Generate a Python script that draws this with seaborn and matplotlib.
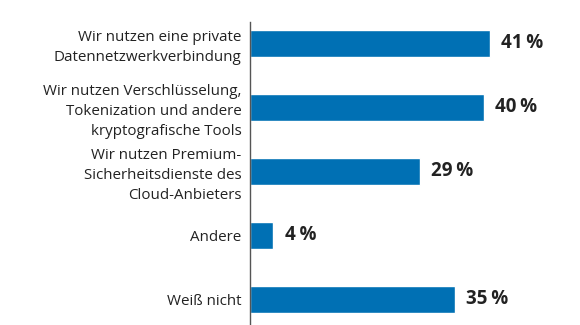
import matplotlib
matplotlib.use("Agg")
import matplotlib.pyplot as plt
import seaborn as sns
import pandas as pd

categories = [
    "Wir nutzen eine private\nDatennetzwerkverbindung",
    "Wir nutzen Verschlüsselung,\nTokenization und andere\nkryptografische Tools",
    "Wir nutzen Premium-\nSicherheitsdienste des\nCloud-Anbieters",
    "Andere",
    "Weiß nicht",
]
values = [41, 40, 29, 4, 35]

df = pd.DataFrame({"Kategorie": categories, "Anteil": values})

sns.set_theme(style="white")
plt.rcParams["font.family"] = ["Open Sans", "DejaVu Sans"]

fig = plt.figure(figsize=(5.8, 3.25), dpi=100)
ax = fig.add_axes([250 / 580, 0, 330 / 580, 303 / 325])

sns.barplot(data=df, y="Kategorie", x="Anteil", orient="h",
            color="#0070b4", saturation=1, width=0.42, ax=ax)

ax.set_xlim(0, 56.4)
ax.set_ylim(4.4, -0.336)
ax.set_xlabel("")
ax.set_ylabel("")
ax.set_xticks([])
for s in ["top", "right", "bottom"]:
    ax.spines[s].set_visible(False)
ax.spines["left"].set_color("#555555")
ax.spines["left"].set_linewidth(1.0)

ax.tick_params(axis="y", length=0, pad=6)
for lbl in ax.get_yticklabels():
    lbl.set_fontsize(10.9)
    lbl.set_color("#222222")
    lbl.set_linespacing(1.45)

labels = [f"{v}\u2009%" for v in values]
ax.bar_label(ax.containers[0], labels=labels, padding=8,
             fontsize=13.5, fontweight="bold", color="#222222",
             family=["Open Sans", "DejaVu Sans"])

fig.savefig("out.png", dpi=100)
